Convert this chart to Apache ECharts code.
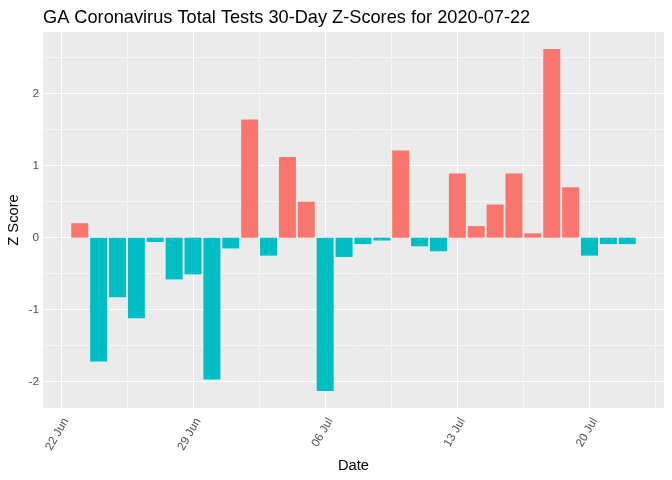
<!DOCTYPE html>
<html>
<head>
<meta charset="utf-8">
<script src="https://cdn.jsdelivr.net/npm/echarts@6/dist/echarts.min.js"></script>
<style>html,body{margin:0;padding:0;background:#fff}#c{width:672px;height:480px}</style>
</head>
<body>
<div id="c"></div>
<script>
const dates = ['2020-06-23','2020-06-24','2020-06-25','2020-06-26','2020-06-27','2020-06-28','2020-06-29','2020-06-30',
  '2020-07-01','2020-07-02','2020-07-03','2020-07-04','2020-07-05','2020-07-06','2020-07-07','2020-07-08','2020-07-09',
  '2020-07-10','2020-07-11','2020-07-12','2020-07-13','2020-07-14','2020-07-15','2020-07-16','2020-07-17','2020-07-18',
  '2020-07-19','2020-07-20','2020-07-21','2020-07-22'];
const zScores = [0.20,-1.72,-0.83,-1.12,-0.06,-0.58,-0.51,-1.97,
  -0.15,1.64,-0.25,1.12,0.50,-2.13,-0.27,-0.09,-0.04,
  1.21,-0.12,-0.19,0.89,0.16,0.46,0.89,0.06,2.62,
  0.70,-0.25,-0.09,-0.09];
const xTickDates = ['2020-06-22','2020-06-29','2020-07-06','2020-07-13','2020-07-20'];
const xTickLabels = ['22 Jun','29 Jun','06 Jul','13 Jul','20 Jul'];
const yTicks = [-2,-1,0,1,2];
const yMinor = [-1.5,-0.5,0.5,1.5,2.5];

const DAY = 86400000;
const ORIGIN = Date.UTC(2020, 5, 22);
const dayNum = s => (new Date(s + 'T00:00:00Z').getTime() - ORIGIN) / DAY;
const xVals = dates.map(dayNum);
const xTicks = xTickDates.map(dayNum);
const xMinor = xTicks.map(v => v + 3.5);
const xMin = xVals[0] - 0.45, xMax = xVals[xVals.length - 1] + 0.45;
const xPad = (xMax - xMin) * 0.05;
const yLo = Math.min(...zScores), yHi = Math.max(...zScores);
const yPad = (yHi - yLo) * 0.05;

const chart = echarts.init(document.getElementById('c'), null, {renderer: 'canvas'});
const FONT = '"Liberation Sans", Arial, sans-serif';
const gridLines = [];
xTicks.forEach(v => gridLines.push({xAxis: v, lineStyle: {width: 1.1}}));
xMinor.forEach(v => gridLines.push({xAxis: v, lineStyle: {width: 0.55}}));
yTicks.forEach(v => gridLines.push({yAxis: v, lineStyle: {width: 1.1}}));
yMinor.forEach(v => gridLines.push({yAxis: v, lineStyle: {width: 0.55}}));

chart.setOption({
  animation: false,
  textStyle: {fontFamily: FONT},
  title: {
    text: 'GA Coronavirus Total Tests 30-Day Z-Scores for 2020-07-22',
    left: 38, top: 4,
    textStyle: {fontSize: 18.2, fontWeight: 'normal', color: '#000', fontFamily: FONT}
  },
  grid: {left: 43, right: 8, top: 32, bottom: 72, show: true, backgroundColor: '#EBEBEB', borderWidth: 0,
    containLabel: false, outerBoundsMode: 'none'},
  xAxis: {
    type: 'value',
    min: xMin - xPad, max: xMax + xPad,
    name: 'Date', nameLocation: 'middle', nameGap: 50, nameMoveOverlap: false,
    nameTextStyle: {fontSize: 14.7, color: '#000', fontFamily: FONT},
    axisLine: {show: false},
    axisTick: {show: true, customValues: xTicks, length: 3.6, lineStyle: {color: '#333', width: 1.1}},
    axisLabel: {
      customValues: xTicks, rotate: 60, margin: 8, fontSize: 11.7, color: '#4D4D4D', fontFamily: FONT,
      verticalAlign: 'top',
      formatter: v => xTickLabels[xTicks.indexOf(v)] || ''
    },
    splitLine: {show: false}
  },
  yAxis: {
    type: 'value',
    min: yLo - yPad, max: yHi + yPad,
    name: 'Z Score', nameLocation: 'middle', nameGap: 22, nameRotate: 90, nameMoveOverlap: false,
    nameTextStyle: {fontSize: 14.7, color: '#000', fontFamily: FONT},
    axisLine: {show: false},
    axisTick: {show: true, customValues: yTicks, length: 3.6, lineStyle: {color: '#333', width: 1.1}},
    axisLabel: {customValues: yTicks, margin: 4, fontSize: 11.7, color: '#4D4D4D', fontFamily: FONT},
    splitLine: {show: false}
  },
  series: [
    {
      type: 'line', data: [], silent: true, z: 1,
      markLine: {
        silent: true, symbol: 'none', z: 1, animation: false,
        label: {show: false},
        lineStyle: {color: '#FFFFFF', type: 'solid'},
        emphasis: {disabled: true},
        data: gridLines
      }
    },
    {
      type: 'bar', z: 3,
      data: xVals.map((x, i) => [x, zScores[i]]),
      barWidth: '90%',
      itemStyle: {color: p => p.value[1] >= 0 ? '#F8766D' : '#00BFC4'}
    }
  ]
});
</script>
</body>
</html>
